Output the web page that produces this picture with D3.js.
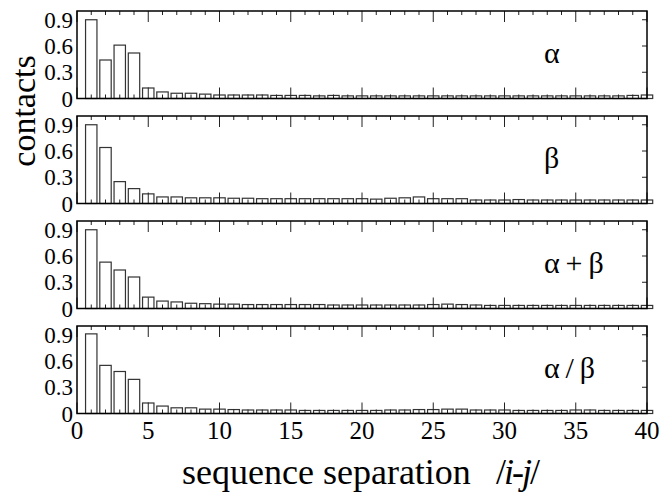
<!DOCTYPE html>
<html lang="en">

<head>
  <meta charset="UTF-8">
  <title>Contacts vs sequence separation</title>
  <script src="https://d3js.org/d3.v7.min.js"></script>
  <style>
    body {
      margin: 0;
      background: white;
    }

    svg {
      display: block;
    }
  </style>
</head>

<body>
  <svg></svg>

  <script>
    // sequence separation 1..40
    const separations = d3.range(1, 41);

    const panelLabels = ["α", "β", "α + β", "α / β"];

    const alphaValues = [0.90, 0.44, 0.61, 0.52, 0.12, 0.075, 0.06, 0.06, 0.05, 0.04,
      0.04, 0.04, 0.04, 0.035, 0.035, 0.035, 0.03, 0.035, 0.03, 0.03,
      0.03, 0.03, 0.03, 0.03, 0.03, 0.03, 0.03, 0.03, 0.03, 0.03,
      0.03, 0.03, 0.03, 0.03, 0.03, 0.03, 0.03, 0.03, 0.035, 0.04];

    const betaValues = [0.90, 0.64, 0.25, 0.17, 0.11, 0.075, 0.075, 0.065, 0.065, 0.065,
      0.06, 0.06, 0.055, 0.055, 0.055, 0.055, 0.055, 0.055, 0.055, 0.055,
      0.05, 0.06, 0.065, 0.075, 0.055, 0.055, 0.055, 0.04, 0.04, 0.04,
      0.045, 0.04, 0.04, 0.04, 0.04, 0.04, 0.04, 0.04, 0.04, 0.04];

    const alphaPlusBetaValues = [0.90, 0.53, 0.44, 0.36, 0.13, 0.085, 0.075, 0.06, 0.055, 0.05,
      0.05, 0.045, 0.045, 0.045, 0.045, 0.045, 0.045, 0.04, 0.04, 0.04,
      0.04, 0.04, 0.04, 0.04, 0.045, 0.05, 0.045, 0.04, 0.035, 0.035,
      0.035, 0.035, 0.035, 0.035, 0.035, 0.035, 0.035, 0.035, 0.035, 0.035];

    const alphaOverBetaValues = [0.91, 0.55, 0.48, 0.39, 0.12, 0.085, 0.065, 0.065, 0.05, 0.05,
      0.045, 0.04, 0.04, 0.04, 0.04, 0.035, 0.035, 0.035, 0.035, 0.035,
      0.035, 0.04, 0.04, 0.045, 0.045, 0.05, 0.05, 0.04, 0.04, 0.04,
      0.035, 0.035, 0.035, 0.035, 0.04, 0.04, 0.035, 0.035, 0.035, 0.035];

    const yTicks = [0, 0.3, 0.6, 0.9];
    const xTicks = [0, 5, 10, 15, 20, 25, 30, 35, 40];

    const panels = [alphaValues, betaValues, alphaPlusBetaValues, alphaOverBetaValues];

    const width = 660, height = 493;
    const left = 77, plotW = 570;
    const top0 = 11, panelH = 87.5, step = 105;
    const serif = "'Liberation Serif', 'Times New Roman', serif";

    const svg = d3.select("svg")
      .attr("width", width)
      .attr("height", height)
      .attr("font-family", serif);

    const x = d3.scaleLinear().domain([0, 40]).range([left, left + plotW]);
    const y = d3.scaleLinear().domain([0, 1]).range([panelH, 0]);

    const minorTicks = d3.range(0, 41);

    panels.forEach((vals, p) => {
      const g = svg.append("g")
        .attr("transform", `translate(0,${top0 + p * step})`);

      // bars
      g.append("g")
        .selectAll("rect")
        .data(separations)
        .join("rect")
        .attr("x", d => x(d - 0.4))
        .attr("width", x(0.8) - x(0))
        .attr("y", (d, i) => y(vals[i]))
        .attr("height", (d, i) => y(0) - y(vals[i]))
        .attr("fill", "white")
        .attr("stroke", "#333")
        .attr("stroke-width", 1.2);

      // ticks on top and bottom, pointing inward
      const ticks = g.append("g").attr("stroke", "#222").attr("stroke-width", 1);
      minorTicks.forEach(t => {
        const len = t % 5 === 0 ? 11 : 4;
        ticks.append("line")
          .attr("x1", x(t)).attr("x2", x(t))
          .attr("y1", 0).attr("y2", len);
        ticks.append("line")
          .attr("x1", x(t)).attr("x2", x(t))
          .attr("y1", panelH).attr("y2", panelH - len);
      });

      // right side ticks
      yTicks.slice(1).forEach(t => {
        ticks.append("line")
          .attr("x1", left + plotW).attr("x2", left + plotW - 5)
          .attr("y1", y(t)).attr("y2", y(t));
      });

      // frame
      g.append("rect")
        .attr("x", left).attr("y", 0)
        .attr("width", plotW).attr("height", panelH)
        .attr("fill", "none")
        .attr("stroke", "black")
        .attr("stroke-width", 1.5);

      // y tick labels
      g.append("g")
        .selectAll("text")
        .data(yTicks)
        .join("text")
        .attr("x", left - 4)
        .attr("y", d => y(d))
        .attr("dy", "0.35em")
        .attr("text-anchor", "end")
        .style("font-size", "23px")
        .text(d => d === 0 ? "0" : d3.format(".1f")(d));

      // panel label
      g.append("text")
        .attr("x", 544)
        .attr("y", 52)
        .style("font-size", "30px")
        .style("letter-spacing", "-0.8px")
        .text(panelLabels[p]);
    });

    // x tick labels
    svg.append("g")
      .selectAll("text")
      .data(xTicks)
      .join("text")
      .attr("x", d => x(d))
      .attr("y", 439)
      .attr("text-anchor", "middle")
      .style("font-size", "25px")
      .text(d => d);

    // axis titles
    svg.append("text")
      .attr("transform", "translate(35,111) rotate(-90)")
      .attr("text-anchor", "middle")
      .style("font-size", "34px")
      .text("contacts");

    const xt = svg.append("text")
      .attr("x", 182)
      .attr("y", 484)
      .style("font-size", "36px");
    xt.append("tspan").text("sequence separation");
    const ij = xt.append("tspan").attr("x", 496).style("letter-spacing", "-2px");
    ij.append("tspan").text("/");
    ij.append("tspan").style("font-style", "italic").text("i");
    ij.append("tspan").text("-");
    ij.append("tspan").style("font-style", "italic").text("j");
    ij.append("tspan").text("/");
  </script>
</body>

</html>
